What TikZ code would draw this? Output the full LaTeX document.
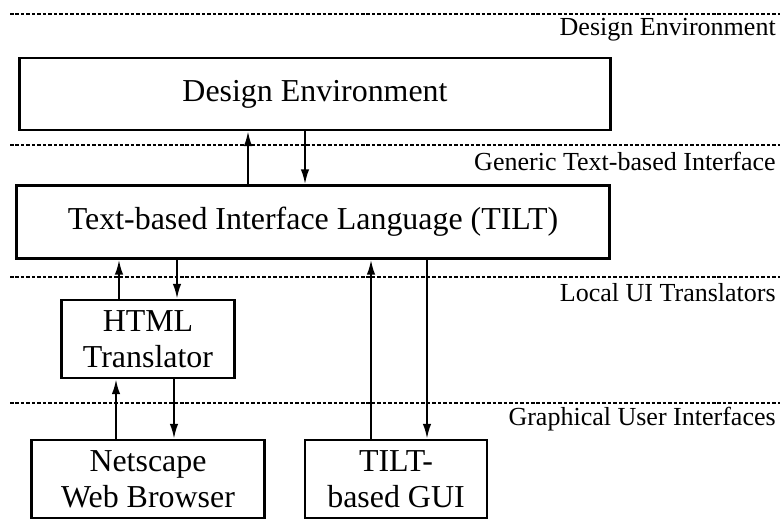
\documentclass[tikz,border=0pt]{standalone}
\usepackage{fontspec}
\setmainfont{Liberation Serif}
\usetikzlibrary{arrows.meta}

\begin{document}
\begin{tikzpicture}[x=0.025cm, y=-0.025cm,
    box/.style={draw, line width=1.9pt, align=center, font=\fontsize{22.7}{25.5}\selectfont},
    layer/.style={anchor=east, inner sep=0pt, font=\fontsize{18.5}{20}\selectfont},
    flow/.style={line width=1.4pt, -{Latex[length=10.5pt,width=6pt]}}]
  % fix the size of the picture
  \useasboundingbox (0,0) rectangle (780,521);
  % repeat drawing the dotted layer lines with their names
  \foreach \y/\t [count=\i] in {14/Design Environment, 145/Generic Text-based Interface,
      277/Local UI Translators, 403/Graphical User Interfaces}{
    % dotted line across the picture
    \draw[line width=1.6pt, dash pattern=on 2.5pt off 1.4pt] (10,\y) -- (780,\y);
    % name of the layer under the line
    \node[layer] (layer\i) at (776,\y+16) {\t};
  }
  % boxes of the layers
  \node[box, minimum width=14.775cm, minimum height=1.8cm] (design) at (315,94) {Design Environment};
  \node[box, minimum width=14.825cm, minimum height=1.825cm] (tilt) at (313,222) {Text-based Interface Language (TILT)};
  \node[box, minimum width=4.325cm, minimum height=1.95cm] (html) at (148,339) {HTML\\Translator};
  \node[box, minimum width=5.825cm, minimum height=1.95cm] (netscape) at (148,479) {Netscape\\Web Browser};
  \node[box, minimum width=4.55cm, minimum height=1.95cm] (gui) at (396,479) {TILT-\\based GUI};
  % x positions of the arrows
  \foreach \n/\x in {tiltup/248, tiltdown/305, htmlup/119, htmldown/177,
      webup/116, webdown/174, guiup/371, guidown/427}
    \coordinate (\n) at (\x,0);
  % arrows between the layers
  \draw[flow] (tilt.north -| tiltup) -- (design.south -| tiltup);
  \draw[flow] (design.south -| tiltdown) -- (tilt.north -| tiltdown);
  \draw[flow] (html.north -| htmlup) -- (tilt.south -| htmlup);
  \draw[flow] (tilt.south -| htmldown) -- (html.north -| htmldown);
  \draw[flow] (netscape.north -| webup) -- (html.south -| webup);
  \draw[flow] (html.south -| webdown) -- (netscape.north -| webdown);
  \draw[flow] (gui.north -| guiup) -- (tilt.south -| guiup);
  \draw[flow] (tilt.south -| guidown) -- (gui.north -| guidown);
\end{tikzpicture}
\end{document}
